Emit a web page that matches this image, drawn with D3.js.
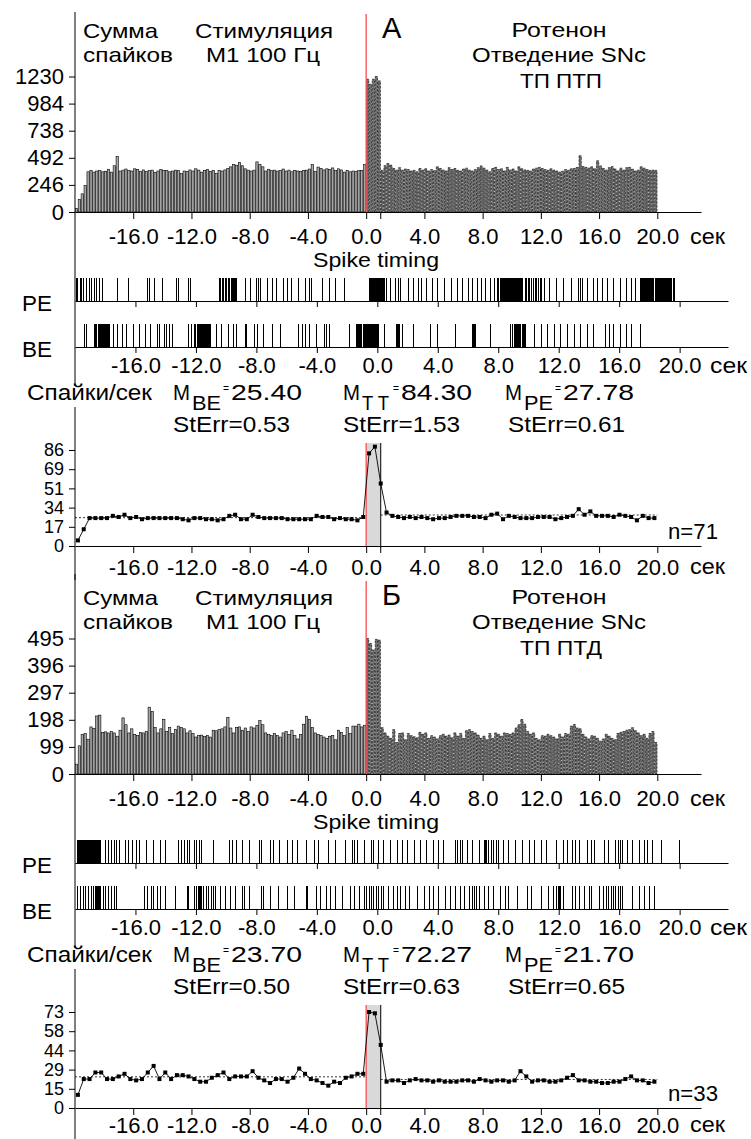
<!DOCTYPE html>
<html>
<head>
<meta charset="utf-8">
<script src="https://cdn.jsdelivr.net/npm/d3@7"></script>
<style>
  body { margin: 0; background: #fff; }
  text { font-family: "Liberation Sans", Arial, sans-serif; fill: #000; }
</style>
</head>
<body>
<div id="chart"></div>
<script>
// ---- data ----
var timeTicks = [-16, -12, -8, -4, 0, 4, 8, 12, 16, 20];

// spike-count histograms, 0.2 s bins from -20 s to +20 s
var histA_pre = [30,115,165,240,365,378,362,372,375,365,370,388,362,420,505,372,380,390,378,372,
  392,385,370,382,368,375,380,360,372,385,375,378,365,372,380,376,350,372,368,382,
  372,392,380,362,378,385,370,378,352,378,372,382,395,410,432,425,448,420,392,380,
  372,380,455,432,410,372,388,375,380,372,378,390,372,380,365,378,372,368,375,380,
  390,430,368,408,395,382,392,385,400,375,392,382,362,378,365,372,370,375,378,430];
var histA_post = [1206,1160,1206,1230,1190,378,420,440,425,395,380,402,378,390,385,372,378,365,395,380,
  392,372,385,375,410,395,380,372,402,385,395,378,372,390,398,380,372,385,402,418,
  398,380,365,395,405,385,392,372,405,380,390,372,410,392,382,378,372,390,398,405,
  395,385,378,392,380,372,362,370,385,378,392,395,405,510,412,405,398,410,392,465,
  418,395,380,402,412,390,372,398,380,402,405,388,372,380,410,398,385,378,380,378];
var histB_pre = [36,103,145,148,127,172,167,212,215,152,154,150,155,150,138,160,205,180,150,165,
  145,140,152,150,155,244,228,170,150,165,200,155,170,148,162,175,170,165,150,158,
  148,135,140,142,137,140,135,160,158,162,165,172,207,168,150,170,172,160,168,155,
  172,168,178,195,180,150,145,140,148,140,135,150,155,145,160,140,128,145,182,211,
  200,170,150,145,140,135,130,138,140,125,160,152,140,170,148,175,175,182,172,178];
var histB_post = [495,477,453,492,489,169,150,138,130,162,115,148,150,125,148,140,136,132,152,145,
  150,130,140,135,128,140,145,138,142,132,150,138,148,130,158,162,155,150,142,130,
  138,125,148,130,150,145,138,150,148,145,150,168,180,199,182,155,145,150,130,125,
  140,138,145,140,135,128,145,135,148,145,175,181,168,165,145,135,128,140,138,130,
  120,128,145,138,130,125,148,152,155,160,162,169,158,150,140,145,130,148,155,115];
var histTicksA = [0, 246, 492, 738, 984, 1230];
var histTicksB = [0, 99, 198, 297, 396, 495];

// spike timing rasters (s)
var rasterA_PE = [-19.95,-19.85,-19.7,-19.6,-19.5,-19.25,-19.1,-18.95,-18.75,-18.6,-18.4,-18.2,
  -17.2,-16.5,-15.25,-15.08,-14.8,-14.25,-13.35,-13.2,-12.55,-12.4,
  -10.5,-10.44,-10.38,-10.3,-10.24,-10.18,-10.1,-10.04,-9.98,-9.9,-9.84,-9.78,-9.7,-9.64,-9.58,-9.5,-9.44,-9.38,
  -8.75,-8.4,-8.02,-7.87,-7.73,-7.29,-7.0,-6.71,-6.27,-5.98,-5.68,-5.25,-4.81,-4.52,-4.37,-3.64,-3.2,-2.77,-2.18,
  -0.58,-0.52,-0.46,-0.4,-0.34,-0.28,-0.22,-0.16,-0.1,-0.04,0.02,0.08,0.14,0.2,0.26,0.32,0.38,0.44,
  0.59,0.82,1.17,1.4,1.52,2.05,2.34,2.69,2.92,3.21,3.65,3.94,4.38,4.9,5.25,5.6,5.98,6.28,6.57,6.86,7.15,7.44,
  7.73,7.9,8.0,8.1,8.17,8.23,8.29,8.35,8.41,8.47,8.53,8.59,8.65,8.71,8.77,8.83,8.89,8.95,9.01,9.07,9.13,9.19,
  9.25,9.31,9.37,9.43,9.5,9.6,9.75,9.85,9.95,10.05,10.15,10.3,10.4,10.5,10.6,10.75,10.85,11.0,
  11.38,11.82,12.26,12.84,13.28,13.42,13.57,13.86,14.3,14.53,14.88,15.17,15.61,16.05,16.48,16.78,17.07,
  17.36,17.43,17.5,17.57,17.64,17.71,17.78,17.85,17.92,17.99,18.06,18.13,18.2,18.27,18.34,18.41,18.48,
  18.55,18.62,18.69,18.76,18.83,18.9,18.97,19.04,19.11,19.18,19.25,19.32,19.39,19.46,19.53,19.6];
var rasterA_BE = [-19.4,-19.25,
  -18.72,-18.65,-18.58,-18.51,-18.44,-18.37,-18.3,-18.23,-18.16,-18.09,-18.02,-17.95,-17.88,-17.81,-17.74,
  -17.5,-17.2,-16.92,-16.62,-16.19,-15.75,-15.37,-15.02,-14.58,-14.44,-14.14,-14.0,-13.77,-13.56,-12.54,-12.31,
  -12.1,-12.03,-11.96,-11.89,-11.82,-11.75,-11.68,-11.61,-11.54,-11.47,-11.4,-11.33,-11.26,-11.19,-11.12,-11.05,
  -10.64,-10.35,-9.91,-9.56,-9.33,-8.77,-8.72,-8.16,-7.93,-7.58,-7.0,-6.41,-5.25,-5.01,-4.81,-4.52,-4.08,
  -3.5,-3.41,-3.2,-1.89,
  -1.4,-1.33,-1.26,-1.19,-1.12,-1.05,-0.98,-0.91,-0.84,-0.77,-0.7,-0.63,-0.56,-0.49,-0.42,-0.35,-0.28,
  -0.21,-0.14,-0.07,0.0,0.06,
  0.44,1.23,1.3,1.37,1.45,1.6,2.34,3.5,3.94,5.11,6.28,6.33,6.38,6.43,6.48,7.44,8.75,8.9,
  9.05,9.12,9.19,9.26,9.33,9.4,9.47,9.54,9.61,9.68,9.75,
  10.36,10.8,11.23,11.67,12.11,12.55,12.98,13.42,13.86,14.3,15.03,15.32,15.61,16.05,16.48,16.78,17.36];
var rasterB_PE = [-19.9,-19.84,-19.78,-19.72,-19.66,-19.6,-19.54,-19.48,-19.42,-19.36,-19.3,-19.24,-19.18,
  -19.12,-19.06,-19.0,-18.94,-18.88,-18.82,-18.76,-18.7,-18.64,-18.58,-18.52,-18.46,-18.4,-18.34,
  -18.0,-17.84,-17.62,-17.43,-17.3,-17.11,-16.67,-16.48,-16.26,-15.94,-15.78,-15.3,-14.83,-14.36,-14.04,
  -13.18,-13.0,-12.77,-12.61,-12.45,-12.14,-11.98,-11.82,-11.66,-10.87,-9.82,-9.6,-9.38,-8.97,-8.49,
  -7.86,-7.7,-7.07,-6.91,-6.5,-5.96,-5.64,-5.33,-4.69,-4.22,-3.9,-3.27,-2.79,-2.16,-1.68,-1.52,-1.36,
  -0.89,-0.41,-0.26,0.06,0.38,0.85,1.33,1.65,1.96,2.44,2.85,3.23,3.7,4.02,4.34,5.13,5.29,5.45,5.61,
  5.92,6.24,6.72,7.03,7.1,7.19,7.35,7.51,7.67,7.82,7.98,8.3,8.62,9.09,9.57,10.04,10.36,10.83,11.15,
  11.79,12.26,12.58,12.89,13.05,13.37,13.84,14.16,14.32,15.02,15.27,15.75,15.9,16.06,16.22,16.54,
  16.85,17.33,17.65,17.81,18.19,18.76,19.93];
var rasterB_BE = [-19.84,-19.65,-19.49,-19.33,-19.17,-18.95,-18.79,-18.7,-18.63,-18.57,-18.47,-18.38,-18.32,
  -18.16,-18.0,-17.84,-17.62,-17.43,-17.3,-15.46,-15.21,-14.99,-14.83,-14.58,-14.36,-14.04,-13.4,
  -12.61,-12.52,-12.14,-11.98,-11.88,-11.82,-11.73,-11.66,-11.5,-11.35,-11.19,-11.03,-10.87,-10.71,
  -10.39,-10.08,-9.76,-9.44,-8.97,-8.81,-8.49,-7.7,-7.54,-7.07,-6.59,-5.96,-5.48,-4.69,-4.63,-4.06,
  -3.8,-3.42,-3.11,-2.79,-2.31,-1.84,-1.52,-1.21,-0.89,-0.73,-0.57,-0.41,-0.26,-0.1,0.06,0.22,0.38,
  0.7,1.01,1.33,1.49,1.8,2.12,2.6,3.07,3.39,3.71,4.02,4.5,4.81,5.13,5.45,5.76,6.08,6.24,6.4,6.56,
  6.72,7.03,7.35,7.67,8.14,8.46,8.62,9.25,9.88,10.2,10.83,11.31,11.63,11.79,11.94,12.04,12.1,12.26,
  12.89,13.05,13.37,13.69,14.0,14.16,14.64,14.95,15.11,15.27,15.43,15.59,15.75,15.9,16.06,16.22,
  16.85,17.33,17.65,17.96,18.28];
var rasterTicks = [-16, -12, -8, -4, 0, 4, 8, 12, 16, 20];

// spikes/s, 0.4 s bins centred from -19.8 s to +19.8 s
var lineA = [5,15,25,25,25,25,27,26,28,25,26,24,25,25,25,25,25,25,24,23,25,25,24,24,23,
  24,27,28,24,24,28,26,25,25,25,25,24,24,24,24,24,27,26,26,24,25,24,24,23,26,
  83,89,56,
  30,27,26,25,26,25,26,25,24,25,25,26,27,27,27,26,26,25,28,29,24,27,26,25,25,
  25,26,26,26,24,25,26,27,33,28,31,27,27,27,26,28,27,26,23,27,25,25];
var lineB = [10,22,22,27,27,22,22,24,26,22,21,22,27,32,22,27,22,25,25,24,22,20,20,23,25,
  27,22,24,24,24,28,23,21,19,22,22,20,23,30,26,22,21,19,17,20,19,23,24,26,26,
  73,72,48,
  20,21,21,19,21,22,21,21,20,21,20,20,20,21,21,20,22,21,20,21,21,20,21,28,24,
  20,21,21,20,20,21,23,25,21,21,20,20,19,19,20,20,22,24,21,21,19,20];
var lineTicksA = ["0", "17", "34", "51", "69", "86"];
var lineTicksB = ["0", "15", "29", "44", "58", "73"];

var statsA = { mBE: 25.40, mTT: 84.30, mPE: 27.78, eBE: 0.53, eTT: 1.53, ePE: 0.61, n: 71 };
var statsB = { mBE: 23.70, mTT: 72.27, mPE: 21.70, eBE: 0.50, eTT: 0.63, ePE: 0.65, n: 33 };

// ---- drawing ----
var svg = d3.select("#chart").append("svg")
    .attr("width", 751)
    .attr("height", 1139);

function label(g, str, x, y, size, len, anchor) {
  var t = g.append("text")
      .attr("x", x).attr("y", y)
      .attr("font-size", size)
      .text(str);
  if (len) t.attr("textLength", len).attr("lengthAdjust", "spacingAndGlyphs");
  if (anchor) t.attr("text-anchor", anchor);
  return t;
}

function styleAxis(sel, size) {
  sel.selectAll("text").attr("font-size", size).attr("fill", "#000");
  sel.selectAll("line").attr("stroke", "#000");
  sel.select(".domain").attr("stroke", "#000");
}

function drawPanel(dy, p) {
  var g = svg.append("g").attr("transform", "translate(0," + dy + ")");

  var x = d3.scaleLinear().domain([-20, 23]).range([75, 701]);
  var xr = d3.scaleLinear().domain([-20, 23.2]).range([75, 728]);
  var yH = d3.scaleLinear().domain([0, p.histMax]).range([212, 76.5]);
  var yL = d3.scaleLinear().domain([0, p.lineMax]).range([546, 450]);

  // long left axis line
  g.append("line").attr("x1", 75).attr("x2", 75).attr("y1", 12).attr("y2", 386)
      .attr("stroke", "#000").attr("stroke-width", 1);
  g.append("line").attr("x1", 75).attr("x2", 75).attr("y1", 407).attr("y2", 580)
      .attr("stroke", "#000").attr("stroke-width", 1);

  // titles
  var tdy = p.titleShift;
  label(g, "Сумма", 83, 38 + tdy, 21, 75);
  label(g, "спайков", 83, 62 + tdy, 21, 90);
  label(g, "Стимуляция", 195, 38 + tdy, 21, 138);
  label(g, "M1 100 Гц", 206, 62 + tdy, 21, 114);
  label(g, p.letter, 382, 38 + tdy, 29);
  label(g, "Ротенон", 559, 37 + tdy, 21, 95, "middle");
  label(g, "Отведение SNc", 559, 62 + tdy, 21, 174, "middle");
  label(g, p.subtitle, 561, 88 + tdy, 21, 82, "middle");

  // histogram
  var hist = p.histPre.concat(p.histPost);
  var bw = x(0.2) - x(0);
  g.append("g").selectAll("rect").data(hist).join("rect")
      .attr("x", function(d, i) { return x(-20 + i * 0.2) + 0.3; })
      .attr("y", function(d) { return yH(d); })
      .attr("width", bw - 0.6)
      .attr("height", function(d) { return yH(0) - yH(d); })
      .attr("fill", function(d, i) { return i < p.histPre.length ? "#a8a8a8" : "#707070"; })
      .attr("stroke", "#000")
      .attr("stroke-width", 0.6)
      .attr("stroke-dasharray", function(d, i) { return i < p.histPre.length ? null : "2.5,1.2"; });

  g.append("line").attr("x1", x(0)).attr("x2", x(0)).attr("y1", 14 + tdy).attr("y2", 212)
      .attr("stroke", "#ff4d4d").attr("stroke-width", 1.3);

  var hx = g.append("g").attr("transform", "translate(0,212)")
      .call(d3.axisBottom(x).tickValues(timeTicks).tickSize(7).tickSizeOuter(0).tickPadding(9)
            .tickFormat(function(d) { return d.toFixed(1); }));
  styleAxis(hx, 22);
  g.append("line").attr("x1", x(1)).attr("x2", x(1)).attr("y1", 212).attr("y2", 219).attr("stroke", "#000");
  label(g, "сек", 690, 244, 22, 35);

  var hy = g.append("g").attr("transform", "translate(75,0)")
      .call(d3.axisLeft(yH).tickValues(p.histTicks).tickSize(6).tickPadding(5).tickFormat(d3.format("d")));
  hy.select(".domain").remove();
  styleAxis(hy, 22);

  // rasters
  label(g, "Spike timing", 376, 267, 21, 126, "middle");
  [[p.rasterPE, 301, "PE"], [p.rasterBE, 347, "BE"]].forEach(function(r, k) {
    g.append("g").attr("shape-rendering", "crispEdges")
      .selectAll("line").data(r[0]).join("line")
        .attr("x1", function(d) { return Math.round(xr(d)) + 0.5; })
        .attr("x2", function(d) { return Math.round(xr(d)) + 0.5; })
        .attr("y1", r[1] - 23).attr("y2", r[1])
        .attr("stroke", "#000").attr("stroke-width", 1);
    var ax = g.append("g").attr("transform", "translate(0," + r[1] + ")")
        .call(d3.axisBottom(xr).tickValues(rasterTicks).tickSize(6).tickSizeOuter(0).tickPadding(4)
              .tickFormat(function(d) { return k === 1 ? d.toFixed(1) : ""; }));
    styleAxis(ax, 22);
    label(g, r[2], 52, r[1] + 10, 22, 30, "end");
  });
  label(g, "сек", 710, 373, 22, 37);

  // stats rows
  label(g, "Спайки/сек", 27, 400, 22, 125);
  [[173, "BE", p.stats.mBE, p.stats.eBE], [343, "T T", p.stats.mTT, p.stats.eTT], [505, "PE", p.stats.mPE, p.stats.ePE]]
    .forEach(function(s) {
      label(g, "M", s[0], 400, 22, 17);
      label(g, s[1], s[0] + 19, 410, 21, s[1] === "T T" ? 27 : 29);
      label(g, "=", s[0] + 50, 392, 13, 6);
      label(g, s[2].toFixed(2), s[0] + 58, 400, 22, 71);
      label(g, "StErr=" + s[3].toFixed(2), s[0] + (s[1] === "PE" ? 3 : 0), 432, 22, 117);
    });

  // spikes/s line chart
  g.append("rect").attr("x", x(0)).attr("y", 443).attr("width", x(1) - x(0)).attr("height", 546 - 443)
      .attr("fill", "#d9d9d9");
  g.append("line").attr("x1", x(0)).attr("x2", x(0)).attr("y1", 443).attr("y2", 546)
      .attr("stroke", "#ff4d4d").attr("stroke-width", 1.3);
  g.append("line").attr("x1", x(1)).attr("x2", x(1)).attr("y1", 443).attr("y2", 553)
      .attr("stroke", "#000").attr("stroke-width", 1);

  g.append("line").attr("x1", 75).attr("x2", x(0)).attr("y1", yL(p.stats.mBE)).attr("y2", yL(p.stats.mBE))
      .attr("stroke", "#000").attr("stroke-width", 0.8).attr("stroke-dasharray", "2,2");
  g.append("line").attr("x1", x(1)).attr("x2", x(20)).attr("y1", yL(p.stats.mPE)).attr("y2", yL(p.stats.mPE))
      .attr("stroke", "#000").attr("stroke-width", 0.8).attr("stroke-dasharray", "2,2");

  var pts = p.line.map(function(v, i) { return { t: -19.8 + i * 0.4, v: v }; });
  g.append("path").datum(pts)
      .attr("fill", "none").attr("stroke", "#000").attr("stroke-width", 0.9)
      .attr("d", d3.line().x(function(d) { return x(d.t); }).y(function(d) { return yL(d.v); }));
  g.append("g").selectAll("rect").data(pts).join("rect")
      .attr("x", function(d) { return x(d.t) - 2; })
      .attr("y", function(d) { return yL(d.v) - 2; })
      .attr("width", 4).attr("height", 4)
      .attr("fill", "#000");

  var lx = g.append("g").attr("transform", "translate(0,546)")
      .call(d3.axisBottom(x).tickValues(timeTicks).tickSize(7).tickSizeOuter(0).tickPadding(p.bottomPad)
            .tickFormat(function(d) { return d.toFixed(1); }));
  styleAxis(lx, 22);
  label(g, "сек", 690, 568 + p.bottomPad, 22, 35);

  var lyVals = p.lineTicks.map(function(s, i) { return p.lineMax * i / 5; });
  var ly = g.append("g").attr("transform", "translate(75,0)")
      .call(d3.axisLeft(yL).tickValues(lyVals).tickSize(6).tickPadding(5)
            .tickFormat(function(d, i) { return p.lineTicks[i]; }));
  ly.select(".domain").remove();
  styleAxis(ly, 18);

  label(g, "n=" + p.stats.n, 668, 539, 22, 50);
}

drawPanel(0, {
  letter: "А", subtitle: "ТП ПТП", titleShift: 0, bottomPad: 6,
  histPre: histA_pre, histPost: histA_post, histMax: 1230, histTicks: histTicksA,
  rasterPE: rasterA_PE, rasterBE: rasterA_BE,
  line: lineA, lineMax: 86, lineTicks: lineTicksA, stats: statsA
});
drawPanel(562, {
  letter: "Б", subtitle: "ТП ПТД", titleShift: 5, bottomPad: 2,
  histPre: histB_pre, histPost: histB_post, histMax: 495, histTicks: histTicksB,
  rasterPE: rasterB_PE, rasterBE: rasterB_BE,
  line: lineB, lineMax: 73, lineTicks: lineTicksB, stats: statsB
});
</script>
</body>
</html>
